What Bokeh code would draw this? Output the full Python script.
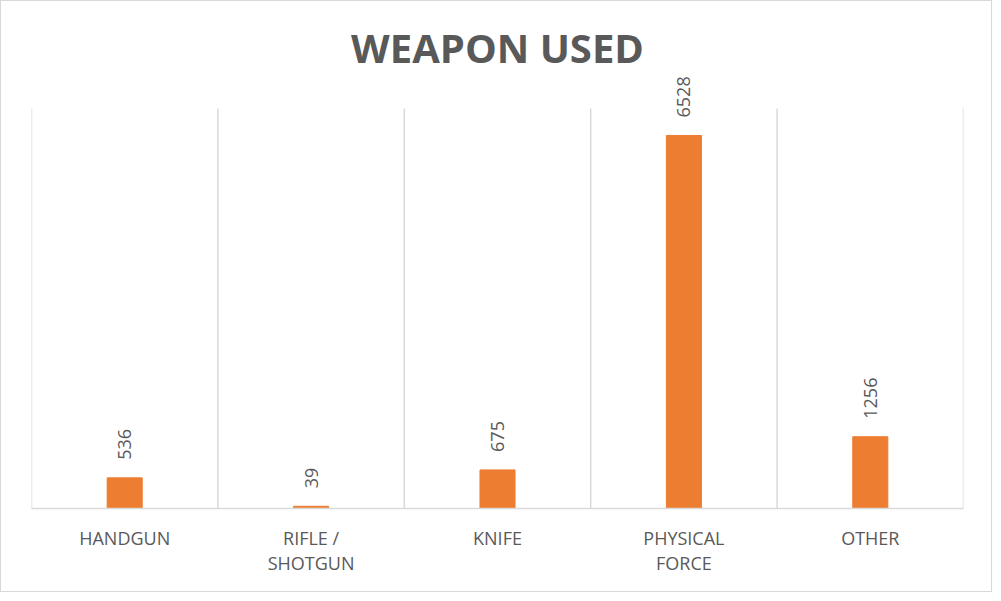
import numpy as np
from bokeh.plotting import figure
from bokeh.models import Range1d, FixedTicker, ColumnDataSource
from bokeh.embed import file_html
from bokeh.resources import INLINE
from bokeh.core.properties import value

categories = ["HANDGUN", "RIFLE /\nSHOTGUN", "KNIFE", "PHYSICAL\nFORCE", "OTHER"]
counts = [536, 39, 675, 6528, 1256]
title_text = "WEAPON USED"
axis_max = 7000

n = len(categories)
xs = np.arange(n) + 0.5
src = ColumnDataSource(dict(x=xs, top=counts, label=[str(c) for c in counts]))

GRAY = "#595959"
GRID = "#d9d9d9"
FONT = "Open Sans"

frame_top_extra = 35  # px of frame above the gridline top, so labels are not clipped
grid_px = 400
y_end = axis_max * (grid_px + frame_top_extra) / grid_px

p = figure(width=992, height=592, output_backend="svg", toolbar_location=None,
           x_range=Range1d(0, n), y_range=Range1d(0, y_end),
           min_border_left=30, min_border_right=30,
           min_border_top=107 - frame_top_extra, min_border_bottom=85)
p.styles = {"border": "1.5px solid #d9d9d9", "box-sizing": "border-box"}

p.title.text = title_text
p.title.align = "center"
p.title.text_font = FONT
p.title.text_font_size = "40px"
p.title.text_font_style = "bold"
p.title.text_color = GRAY
p.title.standoff = -2

# vertical separators between categories
bounds = np.arange(n + 1)
p.segment(x0=bounds, y0=0, x1=bounds, y1=axis_max, line_color=GRID, line_width=1.5)

p.vbar(x="x", top="top", width=0.188, source=src, color="#ED7D31")
p.text(x="x", y="top", text="label", source=src, angle=np.pi / 2, text_align="left",
       text_baseline="middle", y_offset=-18, text_color=GRAY, text_font_size="18px",
       text_font=value(FONT))

p.yaxis.visible = False
p.ygrid.visible = False
p.xgrid.visible = False

ax = p.xaxis[0]
ax.ticker = FixedTicker(ticks=list(xs))
ax.major_label_overrides = {float(x): c for x, c in zip(xs, categories)}
ax.major_tick_line_color = None
ax.minor_tick_line_color = None
ax.axis_line_color = GRID
ax.axis_line_width = 1.5
ax.major_label_text_font = FONT
ax.major_label_text_font_size = "18px"
ax.major_label_text_color = GRAY
ax.major_label_text_line_height = 1.05
ax.major_label_standoff = 11

p.outline_line_color = None
p.background_fill_color = "white"
p.border_fill_color = "white"

open("out.html", "w").write(file_html(p, INLINE))
